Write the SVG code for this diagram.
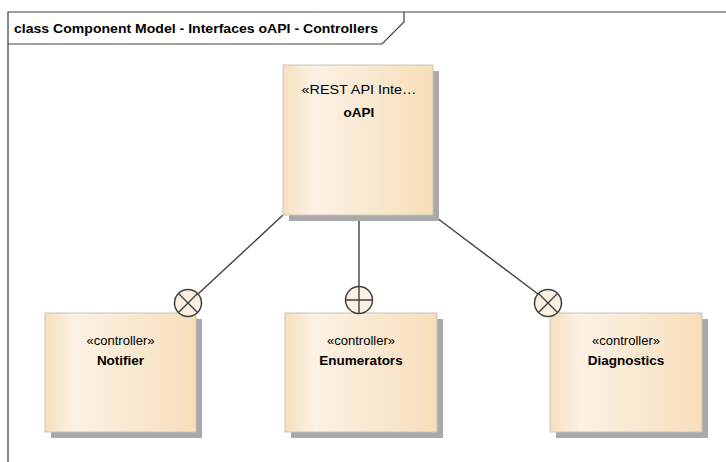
<svg xmlns="http://www.w3.org/2000/svg" width="726" height="462" viewBox="0 0 726 462">
<defs>
<linearGradient id="fill" x1="0" y1="0" x2="1" y2="0">
<stop offset="0" stop-color="#f6dfbd"/>
<stop offset="0.2" stop-color="#fcf1e4"/>
<stop offset="0.6" stop-color="#f9e8d0"/>
<stop offset="1" stop-color="#f7deb9"/>
</linearGradient>
<style>
.shadow{fill:#a9a9a9}
.box{fill:url(#fill);stroke:#c8c4bc;stroke-width:1}
.st{font-family:"Liberation Sans",Arial,sans-serif;font-size:13px;fill:#000;text-anchor:middle}
.nm{font-family:"Liberation Sans",Arial,sans-serif;font-size:13.5px;font-weight:bold;fill:#000;text-anchor:middle}
.conn{stroke:#404040;stroke-width:1.4;fill:none}
.lol{fill:#fbf0e2;stroke:#404040;stroke-width:1.5}
.frame{stroke:#404040;stroke-width:1.2;fill:none}
</style>
</defs>
<rect width="726" height="462" fill="#fff"/>
<g id="frame">
<path class="frame" d="M8,462 V12 H726"/>
<path class="frame" d="M8,44 H382 L404,22 V12" fill="#fff"/>
<text x="14" y="33" font-family="'Liberation Sans',Arial,sans-serif" font-size="13" font-weight="bold" textLength="364" lengthAdjust="spacingAndGlyphs">class Component Model - Interfaces oAPI - Controllers</text>
</g>
<g id="connectors">
<line class="conn" x1="283" y1="215" x2="198" y2="294"/>
<line class="conn" x1="359" y1="215" x2="359" y2="286"/>
<line class="conn" x1="433" y1="215" x2="538" y2="294"/>
</g>
<g id="oAPI">
<rect class="shadow" x="289" y="71" width="150" height="150"/>
<rect class="box" x="283" y="65" width="150" height="150"/>
<text class="st" x="359" y="94" textLength="115" lengthAdjust="spacingAndGlyphs">«REST API Inte…</text>
<text class="nm" x="359" y="117">oAPI</text>
</g>
<g id="Notifier">
<rect class="shadow" x="51" y="319" width="151" height="119"/>
<rect class="box" x="45" y="313" width="151" height="119"/>
<text class="st" x="120.5" y="345">«controller»</text>
<text class="nm" x="120.5" y="365">Notifier</text>
<circle class="lol" cx="188" cy="303" r="13.5"/>
<path class="conn" d="M178.5,293.5 L197.5,312.5 M197.5,293.5 L178.5,312.5"/>
</g>
<g id="Enumerators">
<rect class="shadow" x="291" y="319" width="152" height="119"/>
<rect class="box" x="285" y="313" width="152" height="119"/>
<text class="st" x="361" y="345">«controller»</text>
<text class="nm" x="361" y="365">Enumerators</text>
<circle class="lol" cx="359" cy="300" r="13.5"/>
<path class="conn" d="M345.5,300 H372.5 M359,286.5 V313.5"/>
</g>
<g id="Diagnostics">
<rect class="shadow" x="556" y="319" width="152" height="119"/>
<rect class="box" x="550" y="313" width="152" height="119"/>
<text class="st" x="626" y="345">«controller»</text>
<text class="nm" x="626" y="365">Diagnostics</text>
<circle class="lol" cx="548" cy="303" r="13.5"/>
<path class="conn" d="M538.5,293.5 L557.5,312.5 M557.5,293.5 L538.5,312.5"/>
</g>
</svg>
